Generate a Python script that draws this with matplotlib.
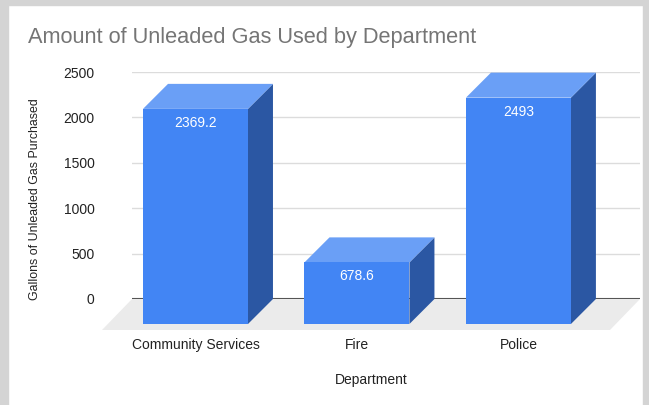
import matplotlib.pyplot as plt
from matplotlib.patches import Rectangle, Polygon

plt.rcParams['font.family'] = ['Liberation Sans', 'DejaVu Sans']

departments = ['Community Services', 'Fire', 'Police']
gallons = [2369.2, 678.6, 2493]
value_labels = ['2369.2', '678.6', '2493']
y_ticks = [0, 500, 1000, 1500, 2000, 2500]

FRONT = '#4285f4'
TOP = '#6a9ff6'
SIDE = '#2b57a3'
FLOOR = '#ebebeb'

W, H = 649, 405
fig = plt.figure(figsize=(W / 100, H / 100), dpi=100)

# light grey frame around the chart
for x0, y0, w, h in [(0, 0, 8, H), (0, H - 5, W, 5), (643, 0, 6, H)]:
    fig.patches.append(Rectangle((x0 / W, y0 / H), w / W, h / H,
                                 transform=fig.transFigure, color='#d4d4d4', zorder=0))

# axes = the back wall of the 3d box
ax = fig.add_axes([132 / W, (H - 299) / H, 508 / W, 227 / H])
ax.set_xlim(-0.548, 2.598)
ax.set_ylim(0, 2500)
for s in ax.spines.values():
    s.set_visible(False)
ax.set_xticks([])
ax.set_yticks(y_ticks)
ax.tick_params(axis='y', length=0, pad=27, labelsize=10, labelcolor='#222222')
ax.set_axisbelow(True)
for t in y_ticks[1:]:
    ax.axhline(t, color='#dcdcdc', lw=1, zorder=0)
ax.axhline(0, color='#555555', lw=1.5, zorder=1)

# pixel offsets of the depth, converted to data units
p0 = ax.transData.transform((0, 0))
p1 = ax.transData.transform((1, 1))
ppx, ppy = p1[0] - p0[0], p1[1] - p0[1]
dx, dy = 25 / ppx, 25 / ppy
fdx, fdy = 30 / ppx, 31 / ppy

x0, x1 = ax.get_xlim()
ax.add_patch(Polygon([(x0, 0), (x1, 0), (x1 - fdx, -fdy), (x0 - fdx, -fdy)],
                     closed=True, color=FLOOR, lw=0, clip_on=False, zorder=1))

bw = 0.65
for i, (v, lab) in enumerate(zip(gallons, value_labels)):
    l, r = i - bw / 2, i + bw / 2
    ax.add_patch(Polygon([(r - dx, -dy), (r, 0), (r, v), (r - dx, v - dy)],
                         closed=True, color=SIDE, lw=0, clip_on=False, zorder=3))
    ax.add_patch(Polygon([(l - dx, v - dy), (r - dx, v - dy), (r, v), (l, v)],
                         closed=True, color=TOP, lw=0, clip_on=False, zorder=3))
    ax.add_patch(Rectangle((l - dx, -dy), bw, v, color=FRONT, lw=0,
                           clip_on=False, zorder=4))
    ax.annotate(lab, (i - dx, v - dy), xytext=(0, -14 * 0.72), textcoords='offset points',
                ha='center', va='center', color='white', fontsize=10, zorder=5)
    ax.annotate(departments[i], (i - dx, 0), xytext=(0, -46 * 0.72),
                textcoords='offset points', ha='center', va='center',
                color='#222222', fontsize=10, annotation_clip=False)

fig.text(28 / W, 1 - 38 / H, 'Amount of Unleaded Gas Used by Department',
         ha='left', va='center', fontsize=15.7, color='#757575')
fig.text(35 / W, 1 - 199 / H, 'Gallons of Unleaded Gas Purchased', rotation=90,
         ha='center', va='center', fontsize=8.9, color='#222222')
fig.text(371 / W, 1 - 380 / H, 'Department', ha='center', va='center',
         fontsize=10, color='#222222')

fig.savefig('out.png', dpi=100)
